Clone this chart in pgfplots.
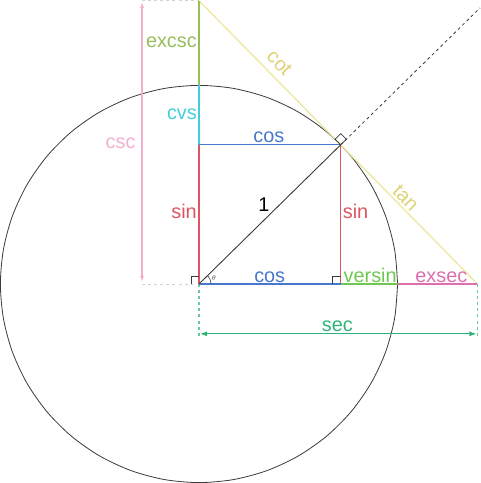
\documentclass[border=0pt]{standalone}
\usepackage{fontspec}
\setmainfont{Liberation Sans}
\usepackage{pgfplots}
\pgfplotsset{compat=1.18}
\usetikzlibrary{arrows.meta}
\definecolor{sinc}{RGB}{222,84,96}
\definecolor{cosc}{RGB}{72,120,205}
\definecolor{cvsc}{RGB}{70,205,220}
\definecolor{excscc}{RGB}{150,190,90}
\definecolor{cotc}{RGB}{236,232,160}
\definecolor{cotl}{RGB}{222,210,120}
\definecolor{versc}{RGB}{110,200,80}
\definecolor{exsecc}{RGB}{222,110,175}
\definecolor{cscc}{RGB}{242,175,205}
\definecolor{secc}{RGB}{45,180,120}
\definecolor{circc}{RGB}{60,60,60}
\begin{document}
\begin{tikzpicture}[lbl/.style={font=\fontsize{19.5bp}{22bp}\selectfont, inner sep=1bp}]
\begin{axis}[x=195bp, y=195bp, xmin=-1.046, xmax=1.421, ymin=-1.021, ymax=1.456,
  hide axis, clip=true]
% unit circle
\addplot[circc, line width=0.8bp, smooth, mark=none] coordinates {
(1,0) (0.9848,0.1736) (0.9397,0.3420) (0.8660,0.5000) (0.7660,0.6428) (0.6428,0.7660)
(0.5000,0.8660) (0.3420,0.9397) (0.1736,0.9848) (0,1) (-0.1736,0.9848) (-0.3420,0.9397)
(-0.5,0.8660) (-0.6428,0.7660) (-0.7660,0.6428) (-0.8660,0.5) (-0.9397,0.3420) (-0.9848,0.1736)
(-1,0) (-0.9848,-0.1736) (-0.9397,-0.3420) (-0.8660,-0.5) (-0.7660,-0.6428) (-0.6428,-0.7660)
(-0.5,-0.8660) (-0.3420,-0.9397) (-0.1736,-0.9848) (0,-1) (0.1736,-0.9848) (0.3420,-0.9397)
(0.5,-0.8660) (0.6428,-0.7660) (0.7660,-0.6428) (0.8660,-0.5) (0.9397,-0.3420) (0.9848,-0.1736) (1,0)};
% dashed ray extension
\addplot[circc, line width=0.8bp, dashed, mark=none] coordinates {(0.7133,0.7009) (1.415,1.390)};
% cot and tan
\addplot[cotc, line width=1.3bp, mark=none] coordinates {(0,1.4267) (0.7133,0.7009)};
\addplot[cotc, line width=1.3bp, mark=none] coordinates {(0.7133,0.7009) (1.4020,0)};
% csc guide lines
\addplot[gray!35, line width=0.8bp, dashed, mark=none] coordinates {(-0.287,1.4267) (0,1.4267)};
\addplot[gray!35, line width=0.8bp, dashed, mark=none] coordinates {(-0.287,0) (-0.03,0)};
\addplot[cscc, line width=1bp, {Latex[length=6bp,width=4bp]}-{Latex[length=6bp,width=4bp]}, mark=none] coordinates {(-0.287,0.01) (-0.287,1.42)};
% sec
\addplot[secc!70, line width=1bp, dashed, mark=none] coordinates {(0,0) (0,-0.27)};
\addplot[secc!70, line width=1bp, dashed, mark=none] coordinates {(1.402,0) (1.402,-0.27)};
\addplot[secc, line width=1bp, {Latex[length=7bp,width=5bp]}-{Latex[length=7bp,width=5bp]}, mark=none] coordinates {(0.005,-0.251) (1.397,-0.251)};
% excsc, cvs
\addplot[excscc, line width=1.3bp, mark=none] coordinates {(0,1) (0,1.4267)};
\addplot[cvsc, line width=1.3bp, mark=none] coordinates {(0,0.7009) (0,1)};
% sin
\addplot[sinc, line width=1.3bp, mark=none] coordinates {(0,0) (0,0.7009)};
\addplot[sinc, line width=1.3bp, mark=none] coordinates {(0.7133,0) (0.7133,0.7009)};
% cos
\addplot[cosc, line width=1.3bp, mark=none] coordinates {(0,0.7009) (0.7133,0.7009)};
\addplot[cosc, line width=1.3bp, mark=none] coordinates {(0,0) (0.7133,0)};
% versin, exsec
\addplot[versc, line width=1.3bp, mark=none] coordinates {(0.7133,0) (1,0)};
\addplot[exsecc, line width=1.3bp, mark=none] coordinates {(1,0) (1.402,0)};
% radius
\addplot[circc, line width=0.9bp, mark=none] coordinates {(0,0) (0.7133,0.7009)};
% right angle marks
\addplot[circc, line width=0.7bp, mark=none] coordinates {(-0.04,0) (-0.04,0.036) (0,0.036)};
\addplot[circc, line width=0.7bp, mark=none] coordinates {(0.6733,0) (0.6733,0.036) (0.7133,0.036)};
\addplot[circc, line width=0.7bp, mark=none] coordinates {(0.7133,0.7009) (0.7418,0.7289) (0.7138,0.7574) (0.6853,0.7294) (0.7133,0.7009)};
% angle arc
\addplot[circc, line width=0.6bp, smooth, mark=none] coordinates {(0.06,0) (0.0588,0.0117) (0.0554,0.023) (0.0499,0.0333) (0.0428,0.042)};
% labels
\node[lbl, sinc, anchor=east] at (axis cs:-0.005,0.364) {sin};
\node[lbl, sinc, anchor=west] at (axis cs:0.718,0.364) {sin};
\node[lbl, cosc, anchor=south] at (axis cs:0.352,0.703) {cos};
\node[lbl, cosc, anchor=south] at (axis cs:0.356,0.002) {cos};
\node[lbl, cvsc, anchor=east] at (axis cs:-0.005,0.856) {cvs};
\node[lbl, excscc, anchor=east] at (axis cs:-0.005,1.215) {excsc};
\node[lbl, cscc] at (axis cs:-0.395,0.708) {csc};
\node[lbl, cotl, rotate=-45.5] at (axis cs:0.405,1.113) {cot};
\node[lbl, cotl, rotate=-45.5] at (axis cs:1.041,0.431) {tan};
\node[lbl, versc, anchor=south] at (axis cs:0.862,0.002) {versin};
\node[lbl, exsecc, anchor=south] at (axis cs:1.22,0.002) {exsec};
\node[lbl, secc, anchor=south] at (axis cs:0.697,-0.245) {sec};
\node[lbl, black] at (axis cs:0.327,0.40) {1};
\node[circc, font=\fontsize{7bp}{8bp}\selectfont, inner sep=0pt] at (axis cs:0.075,0.03) {$\theta$};
\end{axis}
\end{tikzpicture}
\end{document}
